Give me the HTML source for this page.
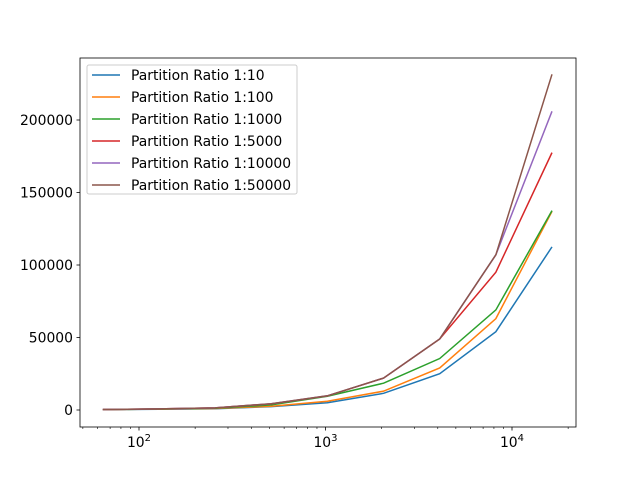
<!DOCTYPE html>
<html><head><meta charset="utf-8"><style>
body{margin:0;background:#fff}
svg{display:block;font-family:"DejaVu Sans","Liberation Sans",sans-serif}
</style></head><body>
<svg id="chart" width="640" height="480">
<rect x="0" y="0" width="640" height="480" fill="#fff"/>
<g id="plot"></g>
</svg>
<script>
const xValues=[64,128,256,512,1024,2048,4096,8192,16384];
const seriesNames=["Partition Ratio 1:10","Partition Ratio 1:100","Partition Ratio 1:1000","Partition Ratio 1:5000","Partition Ratio 1:10000","Partition Ratio 1:50000"];
const s1=[200,500,900,2300,5000,11500,25000,54000,112500];
const s2=[250,600,1000,2600,6000,13000,29000,63000,137000];
const s3=[300,700,1200,3500,9500,18500,35500,69000,137500];
const s4=[350,800,1500,4200,9700,22000,49000,95000,177500];
const s5=[350,800,1500,4300,9800,22000,49000,107000,206000];
const s6=[350,800,1500,4300,9800,22000,49000,107000,231500];
const seriesValues=[s1,s2,s3,s4,s5,s6];
const colors=["#1f77b4","#ff7f0e","#2ca02c","#d62728","#9467bd","#8c564b"];
const yTicks=[0,50000,100000,150000,200000];
const xMajor=[100,1000,10000];
const xMajorLabels=["2","3","4"];

const L=80,R=576,T=58,B=427;
const FS=13.9;
function xs(v){return 139+(Math.log10(v)-2)*186.5;}
function ys(v){return 410-v*0.00145;}
const NS="http://www.w3.org/2000/svg";
const g=document.getElementById('plot');
function mk(tag,attrs,parent){const e=document.createElementNS(NS,tag);for(const k in attrs)e.setAttribute(k,attrs[k]);(parent||g).appendChild(e);return e;}

seriesValues.forEach((vals,i)=>{
  const d=vals.map((v,j)=>(j?'L':'M')+xs(xValues[j]).toFixed(2)+','+ys(v).toFixed(2)).join(' ');
  const p=mk('path',{d:d,fill:'none',stroke:colors[i],'stroke-width':1.5});
  
  
});

const fr=mk('rect',{x:L,y:T,width:R-L,height:B-T,fill:'none',stroke:'#000','stroke-width':0.8});



yTicks.forEach(v=>{
  const y=ys(v);
  mk('line',{x1:L-3.5,x2:L,y1:y,y2:y,stroke:'#000','stroke-width':0.8});
  const t=mk('text',{x:L-7,y:y+5,'text-anchor':'end','font-size':FS,fill:'#000'});
  t.textContent=String(v);
  
  
});

xMajor.forEach((v,i)=>{
  const x=xs(v);
  mk('line',{x1:x,x2:x,y1:B,y2:B+3.5,stroke:'#000','stroke-width':0.8});
  const t=mk('text',{x:x,y:B+20,'text-anchor':'middle','font-size':FS,fill:'#000'});
  t.textContent='10';
  const s=mk('tspan',{dy:-6,'font-size':10},t);
  s.textContent=xMajorLabels[i];
  
  
});
[10,100,1000,10000].forEach(d=>{
  for(let k=2;k<=9;k++){
    const v=d*k,x=xs(v);
    if(x<L||x>R)continue;
    mk('line',{x1:x,x2:x,y1:B,y2:B+2,stroke:'#000','stroke-width':0.6});
  }
});

const lg=mk('g',{});


mk('rect',{x:87,y:65,width:210,height:129,rx:2,fill:'#fff','fill-opacity':0.8,stroke:'#ccc','stroke-width':1},lg);
seriesNames.forEach((n,i)=>{
  const y=75+i*22;
  const e=mk('g',{},lg);
  
  
  mk('line',{x1:92,x2:120,y1:y,y2:y,stroke:colors[i],'stroke-width':1.5},e);
  const t=mk('text',{x:131,y:y+5,'font-size':FS,fill:'#000'},e);
  t.textContent=n;
});
</script>
</body></html>
